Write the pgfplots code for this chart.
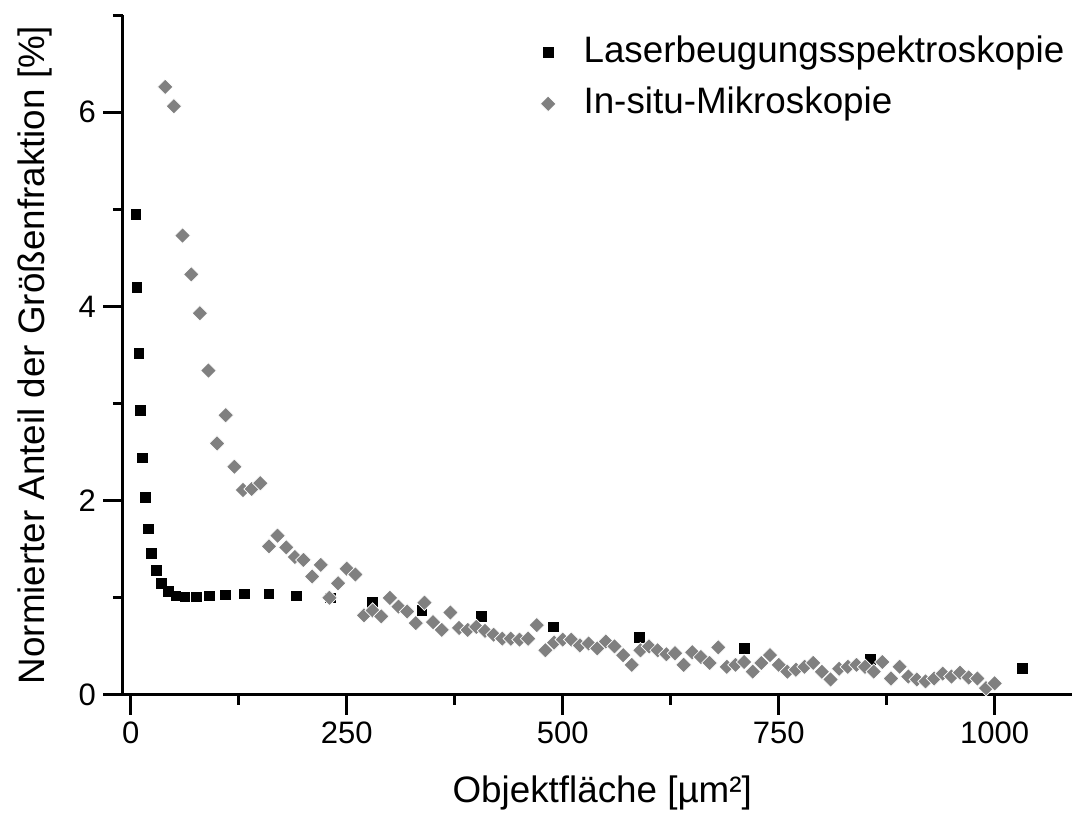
\documentclass[border=0pt]{standalone}
\usepackage{fontspec}
\setmainfont{Liberation Sans}
\usepackage{pgfplots}
\pgfplotsset{compat=1.18}
\definecolor{dgray}{RGB}{128,128,128}
\begin{document}
\begin{tikzpicture}
\useasboundingbox (-61.5pt,-59pt) rectangle (474.5pt,347.5pt);
\begin{axis}[
  scale only axis, width=474.5pt, height=340pt,
  xmin=-8.9, xmax=1089.5, ymin=0, ymax=7,
  axis x line*=bottom, axis y line*=left,
  axis line style={line width=1.5pt},
  tick align=outside,
  major tick length=10pt, minor tick length=5pt,
  every tick/.style={black, line width=1.5pt},
  xtick={0,250,500,750,1000}, minor xtick={125,375,625,875},
  ytick={0,2,4,6}, minor ytick={1,3,5,7},
  tick label style={font=\fontsize{15.5}{18}\selectfont},
  /pgf/number format/assume math mode=true,
  /pgf/number format/1000 sep={},
  xlabel={Objektfläche [µm²]},
  ylabel={Normierter Anteil der Größenfraktion [\%]},
  label style={font=\fontsize{18.4}{22}\selectfont},
  xlabel style={at={(axis description cs:0.505,-0.1574)}, anchor=base},
  ylabel style={at={(axis description cs:-0.0822,0.5)}, anchor=base},
  legend style={draw=none, fill=none, at={(axis description cs:0.4394,0.9706)}, anchor=north west,
    font=\fontsize{18.4}{22}\selectfont, inner sep=0pt, row sep=8.4pt,
    nodes={inner sep=0pt, text height=13.3pt, text depth=3.9pt},
    /tikz/every odd column/.append style={column sep=13.8pt}},
  legend cell align=left,
  legend image code/.code={\draw[#1] plot coordinates {(4pt,0pt)};},
]
\addplot[only marks, mark=square*, mark size=2.45pt, black] coordinates {
(6.1,4.95) (7.3,4.20) (9.6,3.52) (11.1,2.93) (13.4,2.44) (16.6,2.03) (20.4,1.71)
(24.3,1.46) (30.1,1.28) (35.9,1.15) (43.5,1.07) (52.4,1.02) (62.8,1.01) (75.6,1.01)
(91,1.02) (110,1.03) (131.5,1.04) (160,1.04) (192,1.02) (231,1.00) (280,0.95)
(337,0.87) (406,0.81) (489,0.70) (589,0.59) (710,0.48) (856,0.37) (1032,0.27)
};
\addlegendentry{Laserbeugungsspektroskopie}
\addplot[only marks, mark=square*, mark size=2.75pt, mark options={rotate=45, fill=dgray, draw=white, line width=0.35pt}] coordinates {
(40,6.26) (50,6.06) (60,4.73) (70,4.33) (80,3.93) (90,3.34) (100,2.59) (110,2.88)
(120,2.35) (130,2.11) (140,2.12) (150,2.18) (160,1.53) (170,1.64) (180,1.52) (190,1.42)
(200,1.39) (210,1.22) (220,1.34) (230,1.00) (240,1.15) (250,1.30) (260,1.24) (270,0.82)
(280,0.87) (290,0.81) (300,1.00) (310,0.91) (320,0.86) (330,0.74) (340,0.95) (350,0.75)
(360,0.67) (370,0.85) (380,0.69) (390,0.67) (400,0.70) (410,0.66) (420,0.62) (430,0.58)
(440,0.58) (450,0.57) (460,0.58) (470,0.72) (480,0.46) (490,0.54) (500,0.57) (510,0.57)
(520,0.51) (530,0.53) (540,0.48) (550,0.55) (560,0.50) (570,0.41) (580,0.31) (590,0.46)
(600,0.50) (610,0.46) (620,0.42) (630,0.43) (640,0.31) (650,0.44) (660,0.39) (670,0.33)
(680,0.49) (690,0.29) (700,0.31) (710,0.34) (720,0.24) (730,0.33) (740,0.41) (750,0.31)
(760,0.24) (770,0.26) (780,0.29) (790,0.33) (800,0.24) (810,0.16) (820,0.27) (830,0.29)
(840,0.31) (850,0.29) (860,0.24) (870,0.34) (880,0.17) (890,0.29) (900,0.19) (910,0.16)
(920,0.14) (930,0.17) (940,0.22) (950,0.19) (960,0.23) (970,0.18) (980,0.17) (990,0.07)
(1000,0.12)
};
\addlegendentry{In-situ-Mikroskopie}
\end{axis}
\end{tikzpicture}
\end{document}
